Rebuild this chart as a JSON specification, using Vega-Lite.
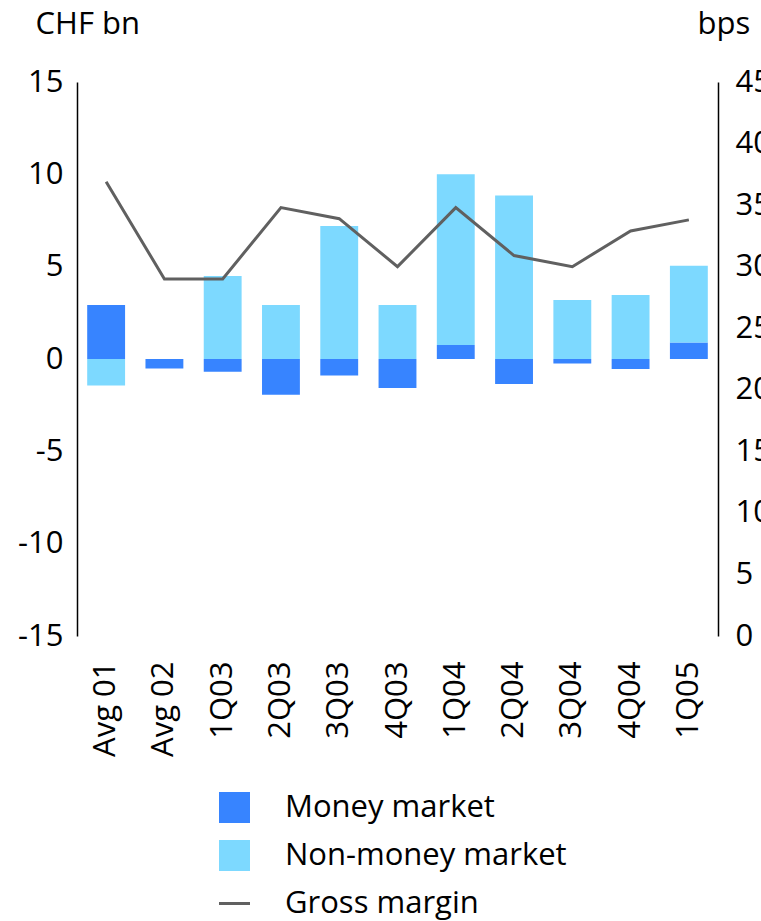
{
  "$schema": "https://vega.github.io/schema/vega-lite/v6.json",
  "width": 641,
  "height": 554,
  "autosize": {"type": "none"},
  "padding": {"left": 77, "top": 82, "right": 43, "bottom": 285},
  "config": {
    "font": "Open Sans",
    "view": {"stroke": null},
    "axis": {"labelColor": "#000", "titleColor": "#000", "titleFontWeight": "normal", "grid": false, "ticks": false}
  },
  "datasets": {
    "flows": [
      {"period": "Avg 01", "series": "Money market", "value": 2.92},
      {"period": "Avg 01", "series": "Non-money market", "value": -1.44},
      {"period": "Avg 02", "series": "Money market", "value": -0.52},
      {"period": "Avg 02", "series": "Non-money market", "value": 0},
      {"period": "1Q03", "series": "Money market", "value": -0.69},
      {"period": "1Q03", "series": "Non-money market", "value": 4.49},
      {"period": "2Q03", "series": "Money market", "value": -1.93},
      {"period": "2Q03", "series": "Non-money market", "value": 2.92},
      {"period": "3Q03", "series": "Money market", "value": -0.9},
      {"period": "3Q03", "series": "Non-money market", "value": 7.2},
      {"period": "4Q03", "series": "Money market", "value": -1.57},
      {"period": "4Q03", "series": "Non-money market", "value": 2.92},
      {"period": "1Q04", "series": "Money market", "value": 0.76},
      {"period": "1Q04", "series": "Non-money market", "value": 9.24},
      {"period": "2Q04", "series": "Money market", "value": -1.35},
      {"period": "2Q04", "series": "Non-money market", "value": 8.86},
      {"period": "3Q04", "series": "Money market", "value": -0.25},
      {"period": "3Q04", "series": "Non-money market", "value": 3.19},
      {"period": "4Q04", "series": "Money market", "value": -0.54},
      {"period": "4Q04", "series": "Non-money market", "value": 3.46},
      {"period": "1Q05", "series": "Money market", "value": 0.9},
      {"period": "1Q05", "series": "Non-money market", "value": 4.15}
    ],
    "margin": [
      {"period": "Avg 01", "margin": 36.9},
      {"period": "Avg 02", "margin": 29},
      {"period": "1Q03", "margin": 29},
      {"period": "2Q03", "margin": 34.8},
      {"period": "3Q03", "margin": 33.9},
      {"period": "4Q03", "margin": 30},
      {"period": "1Q04", "margin": 34.8},
      {"period": "2Q04", "margin": 30.9},
      {"period": "3Q04", "margin": 30},
      {"period": "4Q04", "margin": 32.9},
      {"period": "1Q05", "margin": 33.8}
    ]
  },
  "layer": [
    {
      "layer": [
        {
          "data": {"name": "flows"},
          "mark": {"type": "bar"},
          "encoding": {
            "x": {
              "field": "period",
              "type": "nominal",
              "sort": ["Avg 01", "Avg 02", "1Q03", "2Q03", "3Q03", "4Q03", "1Q04", "2Q04", "3Q04", "4Q04", "1Q05"],
              "scale": {"paddingInner": 0.35, "paddingOuter": 0.175},
              "axis": {"title": null, "labelAngle": -90, "domain": false, "ticks": false, "labelFontSize": 31, "labelPadding": 25, "labelFont": "Open Sans"}
            },
            "y": {
              "field": "value",
              "type": "quantitative",
              "stack": "zero",
              "scale": {"domain": [-15, 15], "nice": false},
              "axis": {
                "values": [-15, -10, -5, 0, 5, 10, 15],
                "labelExpr": "'' + datum.value",
                "domain": true,
                "domainColor": "#000",
                "domainWidth": 1.5,
                "labelFontSize": 31,
                "labelPadding": 14,
                "title": "CHF bn",
                "titleAngle": 0,
                "titleFontSize": 31,
                "titleX": -42,
                "titleY": -49,
                "titleAlign": "left",
                "titleBaseline": "alphabetic"
              }
            },
            "order": {"field": "series", "sort": "ascending"},
            "color": {
              "field": "series",
              "type": "nominal",
              "scale": {
                "domain": ["Money market", "Non-money market", "Gross margin"],
                "range": ["#3784FF", "#7DD9FF", "#606060"]
              },
              "legend": {
                "title": null,
                "orient": "none",
                "legendX": 142,
                "legendY": 710,
                "padding": 0,
                "symbolSize": 961,
                "symbolType": "square",
                "symbolStrokeWidth": 0,
                "labelFontSize": 31,
                "labelOffset": 35,
                "labelLimit": 500,
                "rowPadding": 16,
                "labelColor": "#000",
                "encode": {
                  "symbols": {
                    "update": {
                      "shape": {"signal": "datum.value === 'Gross margin' ? 'stroke' : 'square'"},
                      "stroke": {"signal": "datum.value === 'Gross margin' ? '#606060' : 'transparent'"},
                      "strokeWidth": {"signal": "datum.value === 'Gross margin' ? 3 : 0"}
                    }
                  }
                }
              }
            }
          }
        },
        {
          "mark": {"type": "rule", "color": "#000", "strokeWidth": 1.5},
          "encoding": {"y": {"datum": 0}}
        }
      ]
    },
    {
      "data": {"name": "margin"},
      "mark": {"type": "line", "color": "#606060", "strokeWidth": 3},
      "encoding": {
        "x": {
          "field": "period",
          "type": "nominal",
          "sort": ["Avg 01", "Avg 02", "1Q03", "2Q03", "3Q03", "4Q03", "1Q04", "2Q04", "3Q04", "4Q04", "1Q05"]
        },
        "y": {
          "field": "margin",
          "type": "quantitative",
          "scale": {"domain": [0, 45], "nice": false},
          "axis": {
            "orient": "right",
            "values": [0, 5, 10, 15, 20, 25, 30, 35, 40, 45],
            "domain": true,
            "domainColor": "#000",
            "domainWidth": 1.5,
            "labelFontSize": 31,
            "labelPadding": 17,
            "title": "bps",
            "titleAngle": 0,
            "titleFontSize": 31,
            "titleX": -21,
            "titleY": -49,
            "titleAlign": "left",
            "titleBaseline": "alphabetic"
          }
        }
      }
    }
  ],
  "resolve": {"scale": {"y": "independent"}}
}
